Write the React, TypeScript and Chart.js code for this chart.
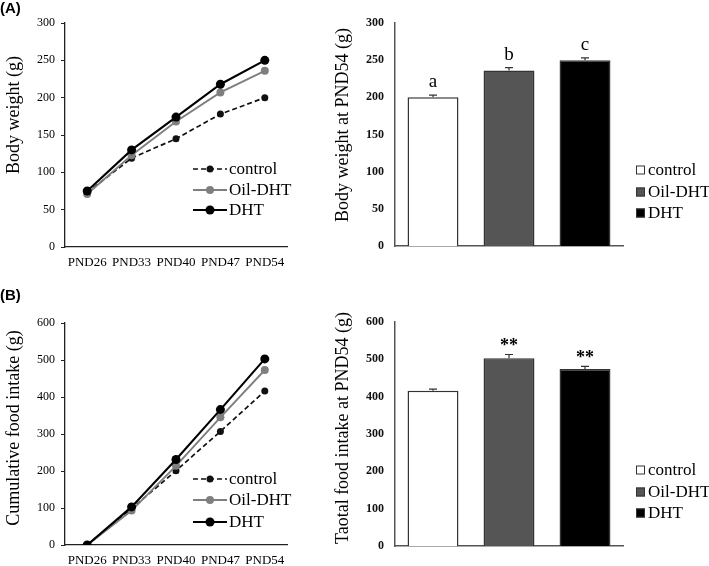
import React, { useEffect, useRef } from "react";
import { Chart, registerables } from "chart.js";
Chart.register(...registerables);

// ---------- data ----------
const days = ["PND26", "PND33", "PND40", "PND47", "PND54"];
const groups = ["control", "Oil-DHT", "DHT"];

const weightControl = [73, 119, 145, 178, 200];
const weightOilDHT = [71, 123, 168, 207, 236];
const weightDHT = [75, 130, 174, 218, 250];

const intakeControl = [0, 98, 201, 307, 416];
const intakeOilDHT = [0, 93, 214, 345, 473];
const intakeDHT = [0, 103, 231, 366, 503];

const weightPND54 = [200, 236, 250];
const weightPND54Err = [3, 4, 3];
const weightLetters = ["a", "b", "c"];

const intakePND54 = [416, 503, 474];
const intakePND54Err = [4, 10, 7];
const intakeMarks = ["", "**", "**"];

const weightTicks = [0, 50, 100, 150, 200, 250, 300];
const intakeTicks = [0, 100, 200, 300, 400, 500, 600];

// ---------- styles ----------
const SERIF = "'Liberation Serif', 'Times New Roman', serif";
const SANS = "'Liberation Sans', Arial, sans-serif";

const lineStyles = [
  { color: "#111111", dash: [5, 3], width: 1.7, radius: 3.5 },
  { color: "#7f7f7f", dash: [] as number[], width: 1.9, radius: 4 },
  { color: "#000000", dash: [] as number[], width: 2.1, radius: 4.5 },
];
const barFills = ["#ffffff", "#555555", "#000000"];

function textPlugin(p: any) {
  return {
    id: "texts",
    afterDraw(chart: any) {
      const ctx = chart.ctx;
      ctx.save();
      ctx.fillStyle = "#000";
      if (p.panel) {
        ctx.font = `bold 15px ${SANS}`;
        ctx.textAlign = "left";
        ctx.textBaseline = "top";
        ctx.fillText(p.panel, 0, p.panelY);
      }
      ctx.translate(p.titleX, p.titleY);
      ctx.rotate(-Math.PI / 2);
      ctx.font = `18px ${SERIF}`;
      ctx.textAlign = "center";
      ctx.textBaseline = "middle";
      ctx.fillText(p.title, 0, 0);
      ctx.restore();
    },
  };
}

function lineLegendPlugin(rows: number[]) {
  return {
    id: "lineLegend",
    afterDraw(chart: any) {
      const ctx = chart.ctx;
      ctx.save();
      groups.forEach((g, i) => {
        const s = lineStyles[i];
        const y = rows[i];
        ctx.strokeStyle = s.color;
        ctx.lineWidth = s.width;
        ctx.setLineDash(s.dash);
        ctx.beginPath();
        ctx.moveTo(193, y);
        ctx.lineTo(227, y);
        ctx.stroke();
        ctx.setLineDash([]);
        ctx.fillStyle = s.color;
        ctx.beginPath();
        ctx.arc(210, y, s.radius, 0, Math.PI * 2);
        ctx.fill();
        ctx.fillStyle = "#000";
        ctx.font = `17px ${SERIF}`;
        ctx.textAlign = "left";
        ctx.textBaseline = "middle";
        ctx.fillText(g, 229, y + 1);
      });
      ctx.restore();
    },
  };
}

function barExtrasPlugin(values: number[], errs: number[], marks: string[], markFont: string, markGap: number, rows: number[]) {
  return {
    id: "barExtras",
    afterDatasetsDraw(chart: any) {
      const ctx = chart.ctx;
      const ys = chart.scales.y;
      const meta = chart.getDatasetMeta(0);
      ctx.save();
      values.forEach((v, i) => {
        const x = meta.data[i].x;
        const y0 = ys.getPixelForValue(v);
        const y1 = ys.getPixelForValue(v + errs[i]);
        ctx.strokeStyle = "#333";
        ctx.lineWidth = 1.2;
        ctx.beginPath();
        ctx.moveTo(x, y0);
        ctx.lineTo(x, y1);
        ctx.moveTo(x - 4, y1);
        ctx.lineTo(x + 4, y1);
        ctx.stroke();
        if (marks[i]) {
          ctx.fillStyle = "#000";
          ctx.font = markFont;
          ctx.textAlign = "center";
          ctx.textBaseline = "alphabetic";
          ctx.fillText(marks[i], x, y1 - markGap);
        }
      });
      groups.forEach((g, i) => {
        const y = rows[i];
        ctx.fillStyle = barFills[i];
        ctx.fillRect(306, y - 4.5, 9, 9);
        ctx.strokeStyle = "#333";
        ctx.lineWidth = 1;
        ctx.strokeRect(306.5, y - 4, 8, 8);
        ctx.fillStyle = "#000";
        ctx.font = `17px ${SERIF}`;
        ctx.textAlign = "left";
        ctx.textBaseline = "middle";
        ctx.fillText(g, 318, y + 1);
      });
      ctx.restore();
    },
  };
}

function lineConfig(p: any): any {
  const [L, T, R, B] = p.area;
  return {
    type: "line",
    data: {
      labels: days,
      datasets: p.series.map((d: number[], i: number) => ({
        label: groups[i],
        data: d,
        borderColor: lineStyles[i].color,
        backgroundColor: lineStyles[i].color,
        borderDash: lineStyles[i].dash,
        borderWidth: lineStyles[i].width,
        pointRadius: lineStyles[i].radius,
        pointBackgroundColor: lineStyles[i].color,
        pointBorderColor: lineStyles[i].color,
        pointBorderWidth: 0,
        tension: 0,
        fill: false,
        order: 2 - i,
      })),
    },
    options: {
      responsive: false,
      animation: false,
      layout: { padding: { left: 0, top: T, right: p.W - R, bottom: 0 } },
      plugins: { legend: { display: false }, tooltip: { enabled: false } },
      scales: {
        x: {
          type: "category",
          offset: true,
          grid: { display: false, drawTicks: false },
          border: { display: true, color: "#222", width: 1.3 },
          ticks: { font: { family: SERIF, size: 13 }, color: "#000", padding: 8, maxRotation: 0, autoSkip: false },
          afterFit: (s: any) => { s.height = p.H - B; },
        },
        y: {
          min: 0,
          max: p.ticks[p.ticks.length - 1],
          grid: { drawOnChartArea: false, drawTicks: true, tickLength: 4, color: "#222", lineWidth: 1 },
          border: { display: true, color: "#222", width: 1.3 },
          ticks: { font: { family: SERIF, size: 12 }, color: "#000", padding: 6 },
          afterBuildTicks: (s: any) => { s.ticks = p.ticks.map((v: number) => ({ value: v })); },
          afterFit: (s: any) => { s.width = L; },
        },
      },
    },
    plugins: [textPlugin(p), lineLegendPlugin(p.legendRows)],
  };
}

function barConfig(p: any): any {
  const [L, T, R, B] = p.area;
  return {
    type: "bar",
    data: {
      labels: groups,
      datasets: [
        {
          data: p.values,
          backgroundColor: barFills,
          borderColor: "#333",
          borderWidth: 1.5,
          barPercentage: 0.67,
          categoryPercentage: 1,
        },
      ],
    },
    options: {
      responsive: false,
      animation: false,
      layout: { padding: { left: 0, top: T, right: p.W - R, bottom: 0 } },
      plugins: { legend: { display: false }, tooltip: { enabled: false } },
      scales: {
        x: {
          grid: { display: false, drawTicks: false },
          border: { display: true, color: "#555", width: 1.5 },
          ticks: { display: false },
          afterFit: (s: any) => { s.height = p.H - B; },
        },
        y: {
          min: 0,
          max: p.ticks[p.ticks.length - 1],
          grid: { display: false, drawTicks: false },
          border: { display: true, color: "#555", width: 1.5 },
          ticks: { font: { family: SERIF, size: 12, weight: "bold" }, color: "#111", padding: 11 },
          afterBuildTicks: (s: any) => { s.ticks = p.ticks.map((v: number) => ({ value: v })); },
          afterFit: (s: any) => { s.width = L; },
        },
      },
    },
    plugins: [
      textPlugin(p),
      barExtrasPlugin(p.values, p.errs, p.marks, p.markFont, p.markGap, p.legendRows),
    ],
  };
}

function ChartBox({ left, top, width, height, build }: any) {
  const ref = useRef<HTMLCanvasElement>(null);
  useEffect(() => {
    const chart = new Chart(ref.current as HTMLCanvasElement, build());
    return () => chart.destroy();
  }, []);
  return (
    <canvas
      ref={ref}
      width={width}
      height={height}
      style={{ position: "absolute", left, top, width, height }}
    />
  );
}

export default function App() {
  return (
    <div style={{ position: "absolute", left: 0, top: 0, width: 709, height: 566, background: "#fff" }}>
      <ChartBox
        left={0}
        top={0}
        width={330}
        height={280}
        build={() =>
          lineConfig({
            W: 330, H: 280, area: [65, 23, 287, 247],
            series: [weightControl, weightOilDHT, weightDHT],
            ticks: weightTicks,
            title: "Body weight (g)", titleX: 14, titleY: 115,
            panel: "(A)", panelY: 1,
            legendRows: [169, 190, 210],
          })
        }
      />
      <ChartBox
        left={330}
        top={0}
        width={379}
        height={280}
        build={() =>
          barConfig({
            W: 379, H: 280, area: [65, 23, 293, 246],
            values: weightPND54, errs: weightPND54Err, marks: weightLetters,
            markFont: `19px ${SERIF}`, markGap: 8,
            ticks: weightTicks,
            title: "Body weight at PND54 (g)", titleX: 13, titleY: 125,
            legendRows: [170, 192, 213],
          })
        }
      />
      <ChartBox
        left={0}
        top={280}
        width={330}
        height={286}
        build={() =>
          lineConfig({
            W: 330, H: 286, area: [65, 43, 287, 265],
            series: [intakeControl, intakeOilDHT, intakeDHT],
            ticks: intakeTicks,
            title: "Cumulative food intake (g)", titleX: 14, titleY: 148,
            panel: "(B)", panelY: 8,
            legendRows: [199, 220, 242],
          })
        }
      />
      <ChartBox
        left={330}
        top={280}
        width={379}
        height={286}
        build={() =>
          barConfig({
            W: 379, H: 286, area: [65, 42, 293, 266],
            values: intakePND54, errs: intakePND54Err, marks: intakeMarks,
            markFont: `bold 18px ${SERIF}`, markGap: 3,
            ticks: intakeTicks,
            title: "Taotal food intake at PND54 (g)", titleX: 13, titleY: 148,
            legendRows: [190, 212, 233],
          })
        }
      />
    </div>
  );
}
